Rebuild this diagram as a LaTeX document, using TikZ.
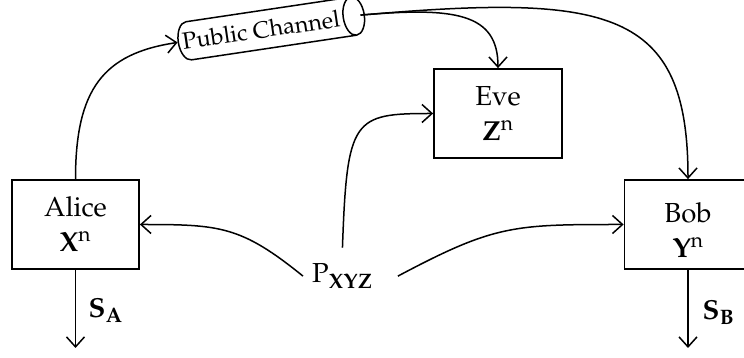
\documentclass[tikz,border=0pt]{standalone}
\usepackage[T1]{fontenc}
\usepackage{mathpazo}
\usetikzlibrary{arrows.meta,shapes.geometric,calc}
\begin{document}
\begin{tikzpicture}[x=1pt,y=1pt,
  every node/.style={font=\fontsize{27.5}{35}\selectfont},
  party/.style={draw, line width=1.8pt, minimum width=127pt, minimum height=89pt,
    align=center, inner sep=0pt},
  link/.style={line width=1.5pt,
    -{Straight Barb[length=10pt,width=18pt,line width=1.5pt]}},
  channel/.style={cylinder, draw, line width=1.5pt, rotate=8.5, aspect=0.55,
    inner xsep=3pt, inner ysep=10.5pt, font=\fontsize{23.5}{28}\selectfont},
  keylabel/.style={inner sep=0pt, anchor=base west}]
\useasboundingbox (0,0) rectangle (744,358);
\clip (0,0) rectangle (744,358);

% the three parties
\node[party] (alice) at (75.5,133.5) {Alice\\\textbf{X}$^{\mathrm{n}}$};
\node[party] (bob)   at (688,133.5) {\rule{0pt}{32pt}Bob\\\textbf{Y}$^{\mathrm{n}}$};
\node[party, minimum width=128pt] (eve) at (498,244.5) {Eve\\\textbf{Z}$^{\mathrm{n}}$};

% public channel
\node[channel] (ch) at (261,328) {Public Channel};
\coordinate (chout) at ($(ch.top)!4.5pt!(ch.bottom)$);

% joint source distribution
\node[anchor=base west, inner xsep=9pt, inner ysep=16pt] (p) at (303,75)
  {P$_{\mathbf{XYZ}}$};

% key outputs
\coordinate (sa) at (75.5,10);
\coordinate (sb) at (688,10);
\node[keylabel] (salabel) at (88,40) {$\mathbf{S}_{\mathbf{A}}$};
\node[keylabel] (sblabel) at (702,38) {$\mathbf{S}_{\mathbf{B}}$};

% connectors
\draw[link] (alice.north) .. controls +(90:90) and +(188.5:75) .. (ch.bottom);
\draw[link] (chout) .. controls +(5:95) and +(90:55) .. (eve.north);
\draw[link] (chout) .. controls +(5:250) and +(90:170) .. (bob.north);

\draw[link] (p.west) .. controls +(141:80) and +(0:80) .. (alice.east);
\draw[link] (p.north) .. controls +(88:130) and +(180:80) .. (eve.west);
\draw[link] ([xshift=16pt]p.east) .. controls +(28:110) and +(180:110) .. (bob.west);

\draw[link] (alice.south) -- (sa);
\draw[link] (bob.south) -- (sb);
\end{tikzpicture}
\end{document}
